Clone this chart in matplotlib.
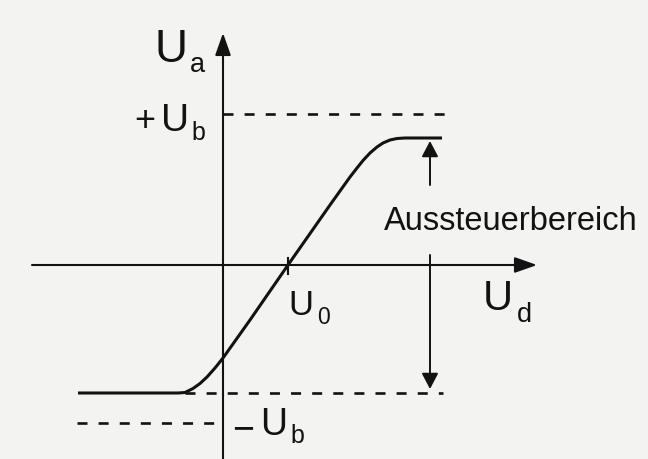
import matplotlib
matplotlib.use('Agg')
import matplotlib.pyplot as plt

plt.rcParams['font.family'] = ['Liberation Sans', 'DejaVu Sans']
plt.rcParams['lines.scale_dashes'] = False

# --- diagram values (1 unit ~ 1 px, origin at the axis crossing) ---
U_B_POS = 151          # +U_b supply level
U_B_NEG = -158         # -U_b supply level
U_SAT_HI = 127         # upper saturation of U_a
U_SAT_LO = -128        # lower saturation of U_a
U_0 = 65               # offset voltage (zero crossing)

# transfer characteristic U_a(U_d)
curve_ud = [-145, -45, -38, -30, -23, -16, -8, 0, 27, 65, 107, 127,
            134, 140, 147, 154, 160, 167, 174, 182, 219]
curve_ua = [-128, -128, -127.5, -123.5, -118.5, -112, -103, -93, -55, 0, 60, 88,
            97, 104.5, 112, 118, 122, 125, 126.5, 127, 127]

X_AXIS = (-191, 314)   # U_d axis extent
Y_AXIS = (-196, 232)   # U_a axis extent
RANGE_X = 207          # position of the "Aussteuerbereich" arrows

INK = '#121212'
PAPER = '#f3f3f1'
DASH = (0, (7.2, 8.0))

fig = plt.figure(figsize=(6.48, 4.59), dpi=100, facecolor=PAPER)
ax = fig.add_axes([0, 0, 1, 1])
ax.set_facecolor(PAPER)
ax.set_xlim(-223, 425)
ax.set_ylim(-194, 265)
ax.axis('off')

def arrow(tail, tip, scale, hl, hw, lw):
    ax.annotate('', xy=tip, xytext=tail,
                arrowprops=dict(arrowstyle=f'-|>,head_length={hl},head_width={hw}',
                                mutation_scale=scale, lw=lw, color=INK,
                                shrinkA=0, shrinkB=0))

# axes with arrows
arrow((X_AXIS[0], 0), (X_AXIS[1], 0), 20, 0.68, 0.24, 1.5)
arrow((0, Y_AXIS[0]), (0, Y_AXIS[1]), 20, 0.68, 0.24, 1.5)

# offset tick
ax.plot([U_0, U_0], [7, -9], color=INK, lw=1.5)

# supply levels (dashed)
ax.plot([0, 232], [U_B_POS, U_B_POS], color=INK, lw=1.9, linestyle=DASH)
ax.plot([-146, -2], [U_B_NEG, U_B_NEG], color=INK, lw=1.9, linestyle=DASH)
ax.plot([-38, 220], [U_SAT_LO, U_SAT_LO], color=INK, lw=1.9, linestyle=DASH)

# characteristic
ax.plot(curve_ud, curve_ua, color=INK, lw=2.2, solid_capstyle='butt',
        solid_joinstyle='round')

# output range arrows
arrow((RANGE_X, 80), (RANGE_X, U_SAT_HI - 3), 10, 0.95, 0.5, 1.4)
arrow((RANGE_X, 10), (RANGE_X, U_SAT_LO + 4), 10, 0.95, 0.5, 1.4)

# labels
def label(x, y, s, size, ha='center'):
    ax.text(x, y, s, fontsize=size, color=INK, ha=ha, va='baseline')

label(-51.5, 203, 'U', 33)
label(-26, 193, 'a', 19.5)

label(-78, 134, '+', 26)
label(-48, 134, 'U', 28)
label(-24.5, 125, 'b', 18)

label(78, -50, 'U', 25)
label(101, -59, '0', 16.5)

label(275, -45, 'U', 30)
label(301.5, -57, 'd', 19.5)

label(20.5, -175, '\u2212', 27)
label(50.5, -170, 'U', 27)
label(74.5, -178, 'b', 18)

label(288, 35, 'Aussteuerbereich', 23.5)

fig.savefig('out.png', dpi=100, facecolor=PAPER)
